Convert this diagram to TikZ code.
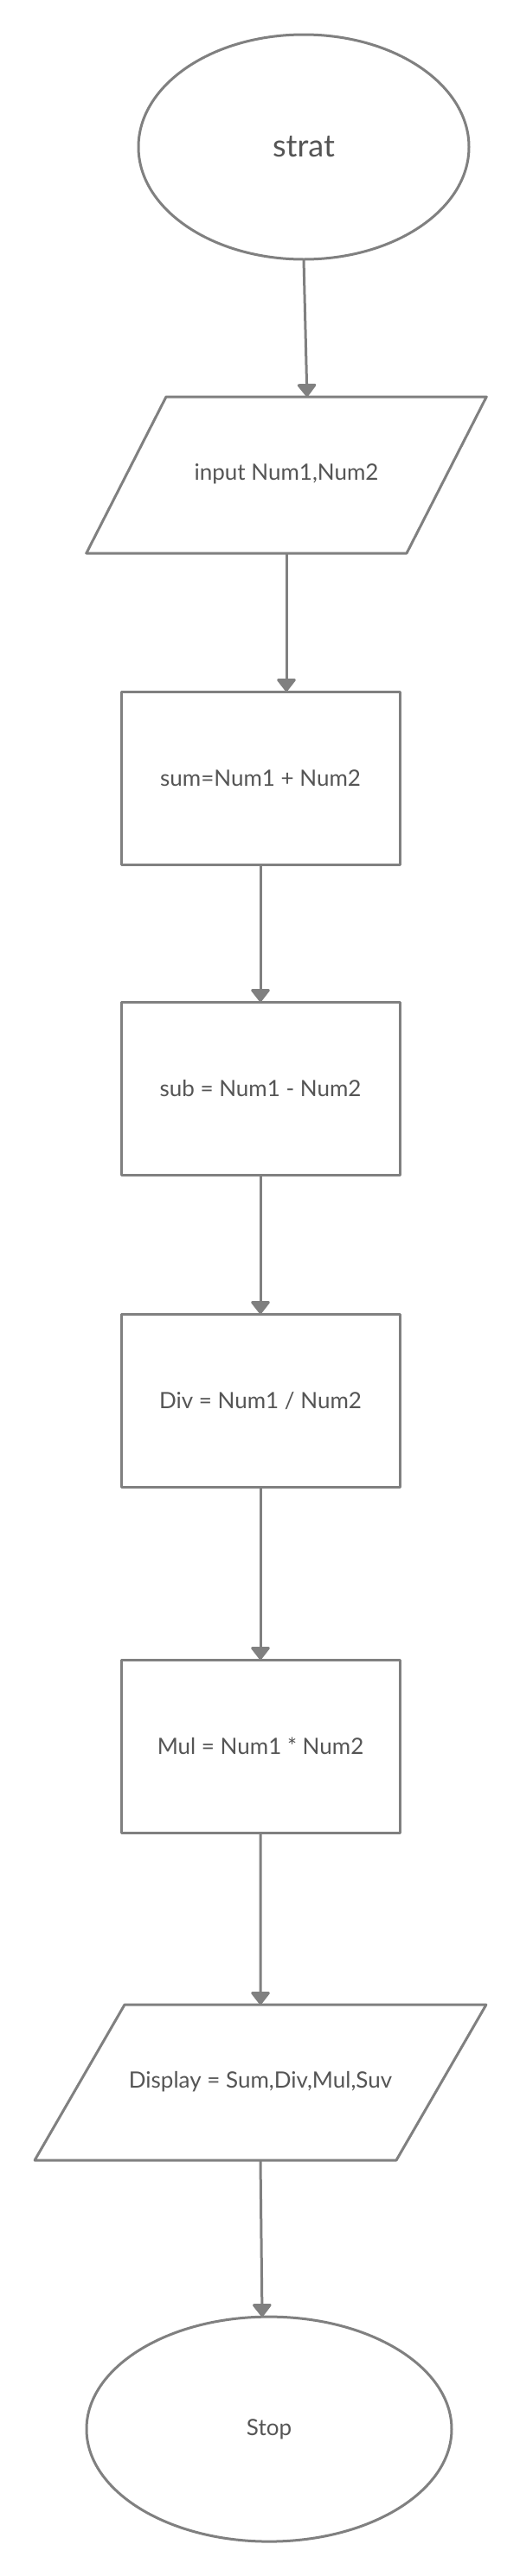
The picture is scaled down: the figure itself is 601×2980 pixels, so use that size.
\documentclass[tikz,border=0pt]{standalone}
\usepackage{fontspec}
\setmainfont{Lato}
\usetikzlibrary{arrows.meta,positioning,shapes.geometric,calc}
\definecolor{LineGray}{RGB}{128,128,128}
\definecolor{TextGray}{RGB}{85,85,85}
\tikzset{
  terminal/.style={ellipse,draw=LineGray,line width=3pt,outer sep=0pt,
    minimum width=382pt,minimum height=260pt,text=TextGray,
    font=\fontsize{26}{30}\selectfont},
  io/.style={trapezium,trapezium left angle=63,trapezium right angle=117,
    draw=LineGray,line width=3pt,line join=round,outer sep=0pt,
    inner xsep=0pt,inner ysep=78.5pt,text width=278pt,align=flush center,
    text height=18pt,text depth=6pt,text=TextGray,
    font=\fontsize{26}{30}\selectfont},
  process/.style={rectangle,draw=LineGray,line width=3pt,line join=round,
    outer sep=0pt,minimum width=322pt,minimum height=200pt,text=TextGray,
    font=\fontsize{26}{30}\selectfont},
  arrow/.style={-{Triangle[width=24pt,length=16pt,round]},line width=3pt,
    LineGray}
}

\begin{document}
\begin{tikzpicture}[x=1pt,y=-1pt,node distance=160pt]

\fill[white] (0,0) rectangle (601,2980);

\node[terminal,font=\fontsize{36}{42}\selectfont] (start) at (351,170) {strat};
\node[io,below=159pt of start,xshift=-20pt] (input) {input Num1,Num2};

\node[process,below=160pt of input,xshift=-30pt] (sum) {sum=Num1 + Num2};
\node[process,below=159pt of sum] (sub) {sub = Num1 - Num2};
\node[process,below=161pt of sub] (div) {Div = Num1 / Num2};
\node[process,below=200pt of div] (mul) {Mul = Num1 * Num2};

\node[io,below=199pt of mul,trapezium left angle=60,trapezium right angle=120,
  text width=314pt,inner ysep=78pt] (display) {Display = Sum,Div,Mul,Suv};
\node[terminal,below=181pt of display,xshift=10pt,minimum width=422pt] (stop) {Stop};

\draw[arrow] (start.south) -- ($(input.top left corner)!0.44!(input.top right corner)$);
\draw[arrow] (input.bottom side -| input.center) -- (sum.north -| input.center);
\draw[arrow] (sum) -- (sub);
\draw[arrow] (sub) -- (div);
\draw[arrow] (div) -- (mul);
\draw[arrow] (mul) -- (display);
\draw[arrow] (display.bottom side -| display.center) -- ([xshift=-8pt]stop.north);

\end{tikzpicture}
\end{document}
